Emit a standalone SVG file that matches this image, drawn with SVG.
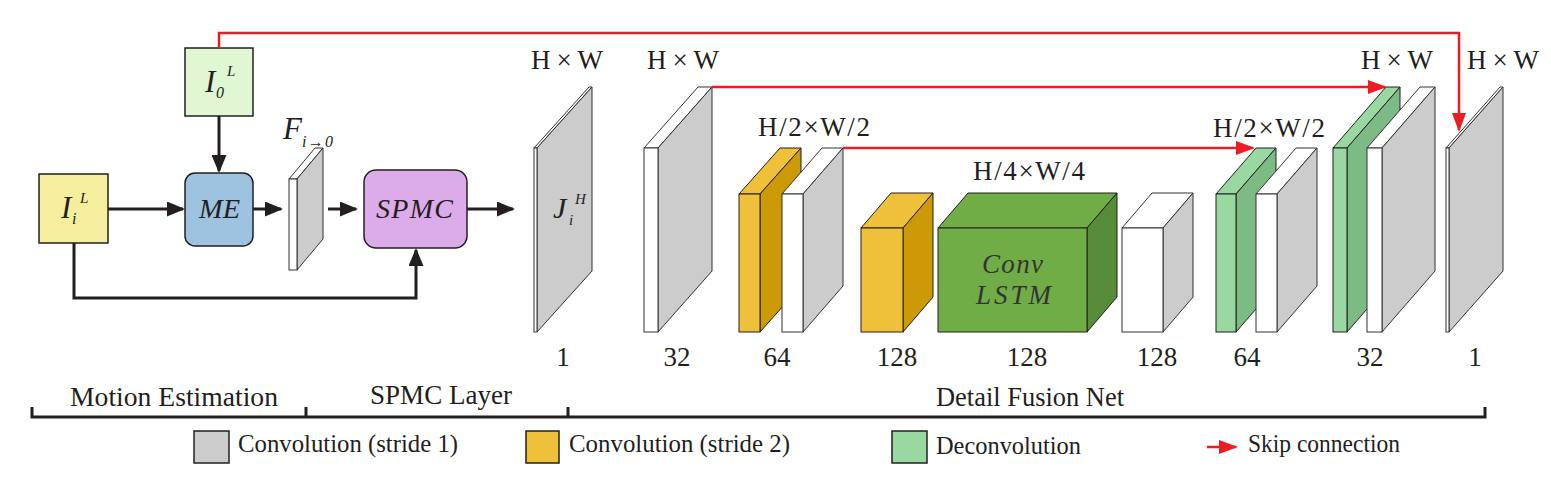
<svg xmlns="http://www.w3.org/2000/svg" width="1551" height="479" viewBox="0 0 1551 479">
<style>
text{font-family:"Liberation Serif","Times New Roman",serif;fill:#231f20}
.it{font-style:italic}
.lbl{font-size:27px;text-anchor:middle}
.num{font-size:27px;text-anchor:middle}
.leg{font-size:26px}
.box{stroke:#231f20;stroke-width:1.5}
.fw{fill:#ffffff;stroke:#333;stroke-width:1}
.sg{fill:#cccccc;stroke:#333;stroke-width:1}
.yf{fill:#efc13b;stroke:#231f20;stroke-width:1}
.ys{fill:#cc9a06;stroke:#231f20;stroke-width:1}
.gf{fill:#70ad47;stroke:#231f20;stroke-width:1}
.gs{fill:#568b38;stroke:#231f20;stroke-width:1}
.lf{fill:#99d8a0;stroke:#231f20;stroke-width:1}
.ls{fill:#7dbb85;stroke:#231f20;stroke-width:1}
.blk{fill:none;stroke:#231f20;stroke-width:3}
.red{fill:none;stroke:#ed1c24;stroke-width:2.5}
</style>
<defs>
<marker id="ab" markerUnits="userSpaceOnUse" markerWidth="18" markerHeight="15" refX="16" refY="7.5" orient="auto"><path d="M0,0 L18,7.5 L0,15 z" fill="#231f20"/></marker>
<marker id="ar" markerUnits="userSpaceOnUse" markerWidth="19" markerHeight="14" refX="17" refY="7" orient="auto"><path d="M0,0 L19,7 L0,14 z" fill="#ed1c24"/></marker>
</defs>

<g id="I0">
<rect class="box" x="185" y="48" width="68" height="68" fill="#e1f6d3"/>
<text class="it" x="205" y="92" font-size="31">I</text>
<text class="it" x="216" y="98" font-size="16">0</text>
<text class="it" x="227" y="76" font-size="15">L</text>
</g>
<g id="Ii">
<rect class="box" x="39" y="174" width="69" height="69" fill="#f5ee9e"/>
<text class="it" x="61" y="218" font-size="31">I</text>
<text class="it" x="72" y="224" font-size="16">i</text>
<text class="it" x="80" y="203" font-size="15">L</text>
</g>
<g id="ME">
<rect class="box" x="185" y="173" width="68" height="73" rx="10" fill="#9dc3e1"/>
<text class="it" x="199" y="218" font-size="28" textLength="41" lengthAdjust="spacingAndGlyphs">ME</text>
</g>
<g id="F">
<polygon class="fw" points="289,179 315,148 323,148 297,179"/>
<polygon class="sg" points="297,179 323,148 323,239 297,270"/>
<rect class="fw" x="289" y="179" width="8" height="91"/>
<text class="it" x="283" y="139" font-size="31">F</text>
<text class="it" x="302" y="147" font-size="16" textLength="31">i→0</text>
</g>
<g id="SPMC">
<rect class="box" x="364" y="170" width="103" height="78" rx="12" fill="#dcabe9"/>
<text class="it" x="376" y="218" font-size="28" textLength="77">SPMC</text>
</g>

<g id="J">
<polygon class="fw" points="534,148 589,87 592,87 537,148"/>
<polygon class="sg" points="537,148 592,87 592,271 537,332"/>
<rect class="fw" x="534" y="148" width="3" height="184"/>
<text class="it" x="553" y="218" font-size="30">J</text>
<text class="it" x="569" y="225" font-size="15">i</text>
<text class="it" x="575" y="204" font-size="15">H</text>
</g>
<g id="conv32a">
<polygon class="fw" points="644,148 698,87 712,87 658,148"/>
<polygon class="sg" points="658,148 712,87 712,271 658,332"/>
<rect class="fw" x="644" y="148" width="14" height="184"/>
</g>
<g id="conv64a">
<polygon class="yf" points="739,194 780,148 801,148 760,194"/>
<polygon class="ys" points="760,194 801,148 801,286 760,332"/>
<rect class="yf" x="739" y="194" width="21" height="138"/>
<polygon class="fw" points="782,194 822,148 843,148 803,194"/>
<polygon class="sg" points="803,194 843,148 843,286 803,332"/>
<rect class="fw" x="782" y="194" width="21" height="138"/>
</g>
<g id="conv128a">
<polygon class="yf" points="861,228 891,193 933,193 903,228"/>
<polygon class="ys" points="903,228 933,193 933,297 903,332"/>
<rect class="yf" x="861" y="228" width="42" height="104"/>
</g>
<g id="convlstm">
<polygon class="gf" points="938,228 968,193 1117,193 1087,228"/>
<polygon class="gs" points="1087,228 1117,193 1117,297 1087,332"/>
<rect class="gf" x="938" y="228" width="149" height="104"/>
<text class="it" x="982" y="273" font-size="27" textLength="61" style="fill:#333">Conv</text>
<text class="it" x="976" y="304" font-size="27" textLength="75" style="fill:#333">LSTM</text>
</g>
<g id="conv128b">
<polygon class="fw" points="1122,228 1152,193 1193,193 1163,228"/>
<polygon class="sg" points="1163,228 1193,193 1193,297 1163,332"/>
<rect class="fw" x="1122" y="228" width="41" height="104"/>
</g>
<g id="deconv64">
<polygon class="lf" points="1216,194 1256,148 1276,148 1236,194"/>
<polygon class="ls" points="1236,194 1276,148 1276,286 1236,332"/>
<rect class="lf" x="1216" y="194" width="20" height="138"/>
<polygon class="fw" points="1256,194 1296,148 1317,148 1277,194"/>
<polygon class="sg" points="1277,194 1317,148 1317,286 1277,332"/>
<rect class="fw" x="1256" y="194" width="21" height="138"/>
</g>
<g id="deconv32">
<polygon class="lf" points="1333,148 1386,87 1400,87 1347,148"/>
<polygon class="ls" points="1347,148 1400,87 1400,271 1347,332"/>
<rect class="lf" x="1333" y="148" width="14" height="184"/>
<polygon class="fw" points="1367,148 1420,87 1435,87 1382,148"/>
<polygon class="sg" points="1382,148 1435,87 1435,271 1382,332"/>
<rect class="fw" x="1367" y="148" width="15" height="184"/>
</g>
<g id="out1">
<polygon class="fw" points="1446,148 1500,87 1503,87 1449,148"/>
<polygon class="sg" points="1449,148 1503,87 1503,271 1449,332"/>
<rect class="fw" x="1446" y="148" width="3" height="184"/>
</g>

<g id="sizes">
<text class="lbl" x="567" y="69" textLength="72">H×W</text>
<text class="lbl" x="683" y="69" textLength="72">H×W</text>
<text class="lbl" x="814" y="136" textLength="112">H/2×W/2</text>
<text class="lbl" x="1029" y="180" textLength="112">H/4×W/4</text>
<text class="lbl" x="1269" y="137" textLength="112">H/2×W/2</text>
<text class="lbl" x="1397" y="69" textLength="72">H×W</text>
<text class="lbl" x="1503" y="69" textLength="72">H×W</text>
</g>
<g id="channels">
<text class="num" x="563" y="366">1</text>
<text class="num" x="677" y="366">32</text>
<text class="num" x="777" y="366">64</text>
<text class="num" x="897" y="366">128</text>
<text class="num" x="1027" y="366">128</text>
<text class="num" x="1157" y="366">128</text>
<text class="num" x="1247" y="366">64</text>
<text class="num" x="1370" y="366">32</text>
<text class="num" x="1475" y="366">1</text>
</g>

<g id="connectors">
<path class="blk" d="M219,116 V171" marker-end="url(#ab)"/>
<path class="blk" d="M108,209 H183" marker-end="url(#ab)"/>
<path class="blk" d="M253,209 H281" marker-end="url(#ab)"/>
<path class="blk" d="M328,209 H356" marker-end="url(#ab)"/>
<path class="blk" d="M467,209 H513" marker-end="url(#ab)"/>
<path class="blk" d="M74,243 V298 H416 V250" marker-end="url(#ab)"/>
<path class="red" d="M219,48 V33 H1459 V130" marker-end="url(#ar)"/>
<path class="red" d="M712,87 H1385" marker-end="url(#ar)"/>
<path class="red" d="M843,148 H1253" marker-end="url(#ar)"/>
</g>

<g id="sections">
<path d="M32,407 V417 H1485 V407 M306,407 V417 M568,407 V417" fill="none" stroke="#231f20" stroke-width="3"/>
<text x="70" y="406" font-size="27" textLength="208" lengthAdjust="spacingAndGlyphs">Motion Estimation</text>
<text x="370" y="404" font-size="27" textLength="142" lengthAdjust="spacingAndGlyphs">SPMC Layer</text>
<text x="936" y="406" font-size="27" textLength="188" lengthAdjust="spacingAndGlyphs">Detail Fusion Net</text>
</g>

<g id="legend">
<rect class="box" x="194" y="431" width="35" height="32" fill="#cccccc"/>
<text class="leg" x="238" y="452" textLength="220" lengthAdjust="spacingAndGlyphs">Convolution (stride 1)</text>
<rect class="box" x="526" y="431" width="33" height="32" fill="#efc13b"/>
<text class="leg" x="569" y="452" textLength="221" lengthAdjust="spacingAndGlyphs">Convolution (stride 2)</text>
<rect class="box" x="892" y="431" width="35" height="32" fill="#99d8a0"/>
<text class="leg" x="936" y="454" textLength="145" lengthAdjust="spacingAndGlyphs">Deconvolution</text>
<path class="red" d="M1207,447 H1236" marker-end="url(#ar)"/>
<text class="leg" x="1248" y="452" textLength="152" lengthAdjust="spacingAndGlyphs">Skip connection</text>
</g>
</svg>
